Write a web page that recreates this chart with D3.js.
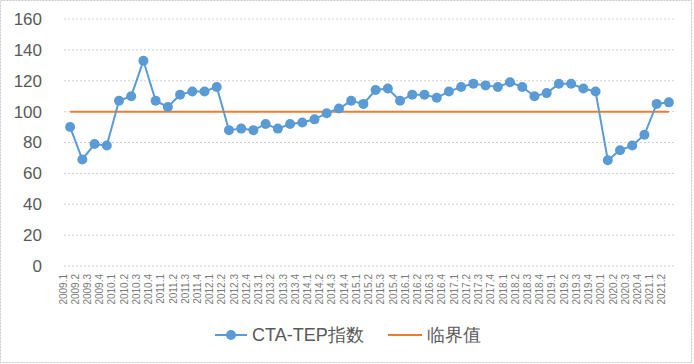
<!DOCTYPE html>
<html><head><meta charset="utf-8">
<script src="https://cdn.jsdelivr.net/npm/d3@7/dist/d3.min.js"></script>
<style>body{margin:0;background:#fff}svg{display:block}</style>
</head><body><svg id="c" width="694" height="364"></svg>
<script>
const categories = ["2009.1","2009.2","2009.3","2009.4","2010.1","2010.2","2010.3","2010.4","2011.1","2011.2","2011.3","2011.4","2012.1","2012.2","2012.3","2012.4","2013.1","2013.2","2013.3","2013.4","2014.1","2014.2","2014.3","2014.4","2015.1","2015.2","2015.3","2015.4","2016.1","2016.2","2016.3","2016.4","2017.1","2017.2","2017.3","2017.4","2018.1","2018.2","2018.3","2018.4","2019.1","2019.2","2019.3","2019.4","2020.1","2020.2","2020.3","2020.4","2021.1","2021.2"];
const indexValues = [90,69,79,78,107,110,133,107,103,111,113,113,116,88,89,88,92,89,92,93,95,99,102,107,105,114,115,107,111,111,109,113,116,118,117,116,119,116,110,112,118,118,115,113,68.5,75,78,85,105,106];
const thresholdValues = categories.map(() => 100);
const yTicks = [0,20,40,60,80,100,120,140,160];
const seriesNames = ["CTA-TEP指数","临界值"];

const svg = d3.select("#c");
const font = "'Liberation Sans', Arial, sans-serif";
svg.append("rect").attr("x",0.5).attr("y",0.5).attr("width",691).attr("height",362)
  .attr("fill","#fff").attr("stroke","#c8c8c8").attr("stroke-dasharray","2,1");

const m = {l:64, r:675, t:19, b:266};
const x = d3.scaleBand().domain(categories).range([m.l, m.r]);
const y = d3.scaleLinear().domain([0,160]).range([m.b, m.t]);
const cx = d => x(d) + x.bandwidth()/2;

const grid = svg.append("g");
yTicks.forEach(t => {
  grid.append("line").attr("x1",m.l).attr("x2",m.r).attr("y1",y(t)).attr("y2",y(t))
    .attr("stroke","#cfcfcf").attr("stroke-width",1).attr("stroke-dasharray","2,2");
});

const yAxis = svg.append("g").attr("transform",`translate(${m.l-8},0)`)
  .call(d3.axisLeft(y).tickValues(yTicks).tickSize(0).tickPadding(14));
yAxis.select(".domain").remove();
yAxis.selectAll("text").attr("font-family",font).attr("font-size",17).attr("fill","#595959");

const xAxis = svg.append("g").attr("transform",`translate(0,${m.b})`)
  .call(d3.axisBottom(x).tickSize(0));
xAxis.select(".domain").remove();
xAxis.selectAll("text").attr("font-family",font).attr("font-size",10).attr("fill","#7a7a7a")
  .attr("transform","rotate(-90)").attr("text-anchor","end").attr("dx","-0.6em").attr("dy","-0.35em").attr("y",0).attr("x",-2);

svg.append("path").datum(thresholdValues)
  .attr("d", d3.line().x((d,i)=>cx(categories[i])).y(d=>y(d)))
  .attr("fill","none").attr("stroke","#ed7d31").attr("stroke-width",2);

svg.append("path").datum(indexValues)
  .attr("d", d3.line().x((d,i)=>cx(categories[i])).y(d=>y(d)))
  .attr("fill","none").attr("stroke","#5b9bd5").attr("stroke-width",2);
svg.append("g").selectAll("circle").data(indexValues).join("circle")
  .attr("cx",(d,i)=>cx(categories[i])).attr("cy",d=>y(d)).attr("r",5)
  .attr("fill","#5b9bd5");

const lg = svg.append("g").attr("font-family",font).attr("font-size",18).attr("fill","#595959");
lg.append("line").attr("x1",215).attr("x2",247).attr("y1",335).attr("y2",335).attr("stroke","#5b9bd5").attr("stroke-width",2);
lg.append("circle").attr("cx",231).attr("cy",335).attr("r",5).attr("fill","#5b9bd5");
lg.append("text").attr("x",252).attr("y",341).text(seriesNames[0]);
lg.append("line").attr("x1",388).attr("x2",422).attr("y1",335).attr("y2",335).attr("stroke","#ed7d31").attr("stroke-width",2);
lg.append("text").attr("x",427).attr("y",341).text(seriesNames[1]);
</script></body></html>
